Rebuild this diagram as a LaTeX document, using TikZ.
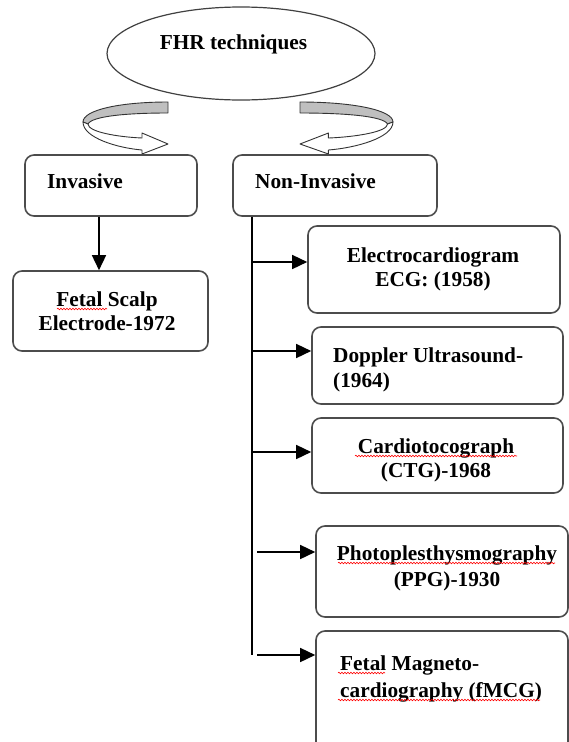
\documentclass[tikz,border=0pt]{standalone}
\usepackage{fontspec}
\setmainfont{Liberation Serif}
\usetikzlibrary{arrows.meta,shapes.geometric,decorations.pathmorphing}
\begin{document}
\begin{tikzpicture}[x=1pt,y=-1pt,
 box/.style={draw=black!70, line width=1.6pt, rounded corners=9pt, inner sep=0pt},
 txt/.style={font=\fontsize{21.3}{25.5}\selectfont\bfseries, inner sep=0pt, anchor=base},
 txtl/.style={txt, anchor=base west},
 arr/.style={line width=1.5pt, -{Triangle[length=15pt,width=14pt]}},
 squig/.style={red, line width=0.6pt, decorate, decoration={snake, amplitude=0.8pt, segment length=3pt}},
 ribbon/.style={draw=black!80, line width=0.9pt, line join=round}]
\useasboundingbox (0,0) rectangle (569,742);

% top ellipse
\node[draw=black!75, line width=1.2pt, ellipse, minimum width=268pt, minimum height=93pt, inner sep=0pt] (fhr) at (241,53.5) {};
\node[txt] (fhrt) at (233.5,49) {FHR techniques};

% curved ribbon arrows
\begin{scope}[shift={(168,0)}]
 \path[ribbon, fill=black!25] (0,102) .. controls (-48,102) and (-85,110) .. (-85,122) -- (-80,124) .. controls (-76,116) and (-40,113) .. (0,113) -- cycle;
 \path[ribbon, fill=white] (-85,122) .. controls (-85,138) and (-50,148) .. (-26,150) -- (-26,154) -- (0,144) -- (-26,133) -- (-26,138) .. controls (-50,137) and (-80,132) .. (-80,124) -- cycle;
\end{scope}
\begin{scope}[shift={(300,0)}, xscale=-1.094]
 \path[ribbon, fill=black!25] (0,102) .. controls (-48,102) and (-85,110) .. (-85,122) -- (-80,124) .. controls (-76,116) and (-40,113) .. (0,113) -- cycle;
 \path[ribbon, fill=white] (-85,122) .. controls (-85,138) and (-50,148) .. (-26,150) -- (-26,154) -- (0,144) -- (-26,133) -- (-26,138) .. controls (-50,137) and (-80,132) .. (-80,124) -- cycle;
\end{scope}

% boxes
\node[box, minimum width=172pt, minimum height=61pt] (inv) at (111,185.5) {};
\node[txtl] (invt) at (47,188) {Invasive};
\node[box, minimum width=204pt, minimum height=61pt] (non) at (335,185.5) {};
\node[txtl] (nont) at (255,188) {Non-Invasive};

\node[box, minimum width=195pt, minimum height=80pt] (fetal) at (110.5,311) {};
\node[txt] (fetal1) at (107,306) {Fetal Scalp};
\node[txt] (fetal2) at (107,330) {Electrode-1972};

\node[box, minimum width=252pt, minimum height=87pt] (ecg) at (434,269.5) {};
\node[txt] (ecg1) at (433,262) {Electrocardiogram};
\node[txt] (ecg2) at (433,286) {ECG: (1958)};

\node[box, minimum width=251pt, minimum height=77pt] (dop) at (437.5,365.5) {};
\node[txtl] (dop1) at (333,362) {Doppler Ultrasound-};
\node[txtl] (dop2) at (333,387) {(1964)};

\node[box, minimum width=251pt, minimum height=75pt] (ctg) at (437.5,455.5) {};
\node[txt] (ctg1) at (436,453) {Cardiotocograph};
\node[txt] (ctg2) at (436,477) {(CTG)-1968};

\node[box, minimum width=252pt, minimum height=91pt] (ppg) at (442,571.5) {};
\node[txt] (ppg1) at (447,560) {Photoplesthysmography};
\node[txt] (ppg2) at (447,586) {(PPG)-1930};

\node[box, minimum width=252pt, minimum height=129pt] (fmcg) at (442,695.5) {};
\node[txtl] (fmcg1) at (340,670) {Fetal Magneto-};
\node[txtl] (fmcg2) at (340,697) {cardiography (fMCG)};

% spell-check squiggles
\draw[squig] (57,309) -- (107,309);
\draw[squig] (355,456) -- (517,456);
\draw[squig] (338,563) -- (555,563);
\draw[squig] (338,673) -- (385,673);
\draw[squig] (338,700) -- (540,700);

% connectors
\coordinate (a0) at (99,0);
\draw[arr] (a0 |- inv.south) -- (a0 |- fetal.north);

\coordinate (t0) at (252,0);
\coordinate (tend) at (252,655);
\draw[line width=1.5pt] (t0 |- non.south) -- (tend);
\coordinate (b1) at (252,262);
\coordinate (b2) at (252,351);
\coordinate (b3) at (252,452);
\coordinate (b4) at (257,552);
\coordinate (b5) at (257,655);
\draw[arr] (b1) -- (b1 -| ecg.west);
\draw[arr] (b2) -- (b2 -| dop.west);
\draw[arr] (b3) -- (b3 -| ctg.west);
\draw[arr] (b4) -- (b4 -| ppg.west);
\draw[arr] (b5) -- (b5 -| fmcg.west);
\end{tikzpicture}
\end{document}
